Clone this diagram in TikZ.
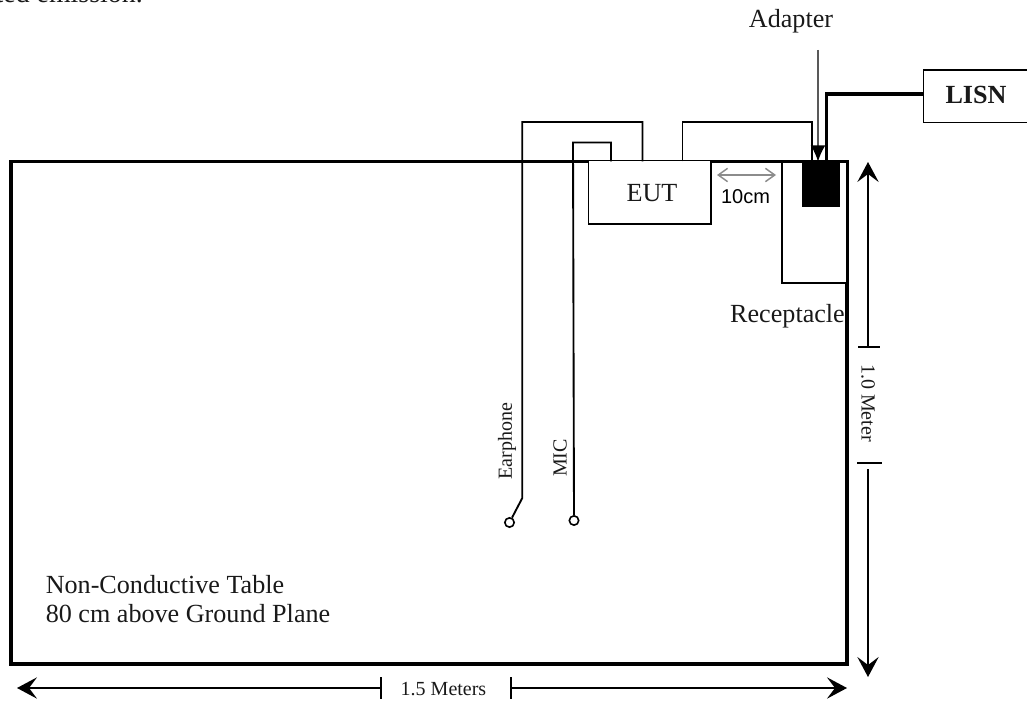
\documentclass[tikz,border=0pt]{standalone}
\usepackage{fontspec}
\setmainfont{Liberation Serif}
\newfontfamily\arialf{Liberation Sans}
\usetikzlibrary{arrows.meta}
\tikzset{
  x=0.75pt,y=-0.75pt,
  wire/.style={line width=1.4pt,black,line join=miter},
  heavy/.style={line width=2.6pt,black},
  lab/.style={inner sep=0pt,font=\fontsize{19.6}{23}\selectfont,text=black!90},
  small/.style={inner sep=0pt,font=\fontsize{15}{18}\selectfont,text=black!90},
  dim/.style={line width=1.1pt,black,-{Stealth[length=15pt,width=16pt,inset=6pt]}},
  jack/.style={circle,draw=black,line width=1.2pt,fill=white,minimum size=7pt,inner sep=0pt},
}
\begin{document}
\begin{tikzpicture}
\useasboundingbox (0,0) rectangle (1027,702);
\node[inner sep=0pt,font=\fontsize{20.9}{24}\selectfont,text=black!90,anchor=base east] (head) at (143,3) {ted emission.};
% table
\coordinate (tl) at (11,161.5);
\coordinate (tr) at (847,161.5);
\coordinate (br) at (847,664);
\coordinate (bl) at (11,664);
\draw[heavy] (tl) -- (tr) -- (br) -- (bl) -- cycle;
% receptacle
\coordinate (r1) at (782,161.5);
\coordinate (r2) at (782,283);
\coordinate (r3) at (847,283);
\draw[line width=1pt,white] (845.7,163.5) -- (845.7,282);
\draw[wire] (r1) -- (r2) -- (r3);
% EUT
\coordinate (e1) at (588.5,161.5);
\coordinate (e2) at (588.5,224);
\coordinate (e3) at (711,224);
\coordinate (e4) at (711,161.5);
\draw[wire,fill=white] (e1) -- (e2) -- (e3) -- (e4);
\node[lab] (eut) at (652,193) {EUT};
% earphone
\node[jack] (ej) at (509.5,522.5) {};
\coordinate (ea) at (522.3,498);
\coordinate (eb) at (522.3,122);
\coordinate (ec) at (642.5,122);
\coordinate (ed) at (642.5,161.5);
\draw[wire] (ej) -- (ea) -- (eb) -- (ec) -- (ed);
\node[small,rotate=90] (earlab) at (507,441) {Earphone};
% MIC
\node[jack] (mj) at (574,520.5) {};
\coordinate (ma) at (573,142.5);
\coordinate (mb) at (611,142.5);
\coordinate (mc) at (611,161.5);
\draw[wire] (mj) -- (ma) -- (mb) -- (mc);
\node[small,rotate=90] (miclab) at (560,458) {MIC};
% power lead
\coordinate (p1) at (682.5,161.5);
\coordinate (p2) at (682.5,122);
\coordinate (p3) at (812,122);
\coordinate (p4) at (812,161.5);
\draw[wire] (p1) -- (p2) -- (p3) -- (p4);
% adapter
\node[fill=black,inner sep=0pt,minimum width=28.5pt,minimum height=34pt] (adp) at (821,184) {};
\node[inner sep=0pt,font=\fontsize{19.6}{23}\selectfont\bfseries,text=black!90] (lisn) at (976,95) {LISN};
\coordinate (lt) at (1030,70);
\coordinate (lw) at (923.5,70);
\coordinate (lb) at (923.5,122.5);
\coordinate (le) at (1030,122.5);
\draw[wire] (lt) -- (lw) -- (lb) -- (le);
\coordinate (k) at (826.5,94.3);
\draw[line width=2.9pt,black] (lw |- k) -- (k) -- (826.5,161.5);
\node[lab] (adl) at (791,21) {Adapter};
\coordinate (adt) at (818,50);
\coordinate (adh) at (818,161.5);
\draw[line width=1pt,black!65,-{Latex[black,length=12pt,width=11pt]}] (adt) -- (adh);
% 10cm
\coordinate (c1) at (717,175);
\coordinate (c2) at (776,175);
\draw[line width=1.1pt,black!45,{Straight Barb[length=7pt,width=10pt]}-{Straight Barb[length=7pt,width=10pt]}] (c1) -- (c2);
\node[inner sep=0pt,font=\arialf\fontsize{15}{18}\selectfont] (cm) at (745.5,197) {10cm};
\node[lab,anchor=base] (rec) at (787.5,322.7) {Receptacle};
% vertical dim
\node[small,rotate=-90] (vlab) at (868,403) {1.0 Meter};
\coordinate (v1) at (868,347);
\coordinate (v2) at (868,162);
\coordinate (v3) at (868,469);
\coordinate (v4) at (868,677);
\draw[dim] (v1) -- (v2);
\draw[dim] (v3) -- (v4);
\draw[wire] (858,347) -- (880,347);
\draw[wire] (857,463) -- (882,463);
% horizontal dim
\node[small] (hlab) at (443.5,689) {1.5 Meters};
\coordinate (h1) at (381,688);
\coordinate (h2) at (17,688);
\coordinate (h3) at (511,688);
\coordinate (h4) at (847,688);
\draw[dim] (h1) -- (h2);
\draw[dim] (h3) -- (h4);
\draw[wire] (381,677) -- (381,699);
\draw[wire] (511,677) -- (511,699);
% table text
\node[lab,anchor=base west] (t1) at (45.5,593) {Non-Conductive Table};
\node[lab,anchor=base west] (t2) at (45.5,622) {80 cm above Ground Plane};
\end{tikzpicture}
\end{document}
